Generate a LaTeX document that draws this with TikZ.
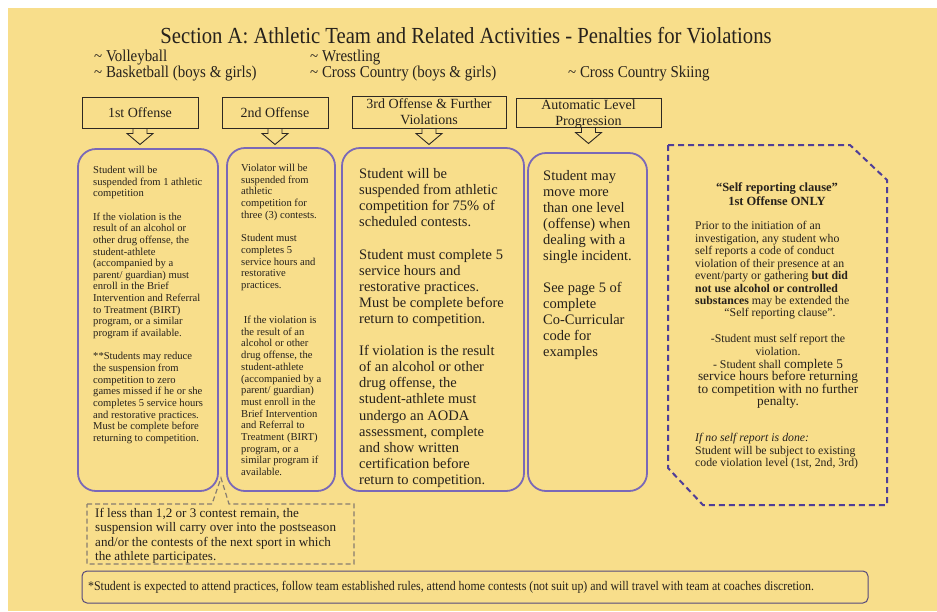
\documentclass[tikz,border=0pt]{standalone}
\usepackage{fontspec}
\setmainfont{Liberation Serif}
\newfontfamily\condfont{Liberation Serif}[FakeStretch=0.9]
\definecolor{bg}{RGB}{248,222,139}
\definecolor{pur}{RGB}{122,104,184}
\definecolor{dpur}{RGB}{80,62,152}
\definecolor{ink}{RGB}{38,33,28}
\definecolor{hdrc}{RGB}{45,40,35}
\definecolor{notec}{RGB}{135,125,112}
\definecolor{botc}{RGB}{85,72,125}
\begin{document}
\begin{tikzpicture}[x=1pt,y=-1pt,
  every node/.style={text=ink, inner sep=0pt},
  hdr/.style={draw=hdrc, line width=1pt, align=center, font=\fontsize{14}{16}\selectfont},
  colbox/.style={draw=pur, line width=1.8pt, rounded corners=18pt},
  smalltxt/.style={anchor=north west, align=left, font=\fontsize{10.6}{11.65}\selectfont},
  bigtxt/.style={anchor=north west, align=left, font=\fontsize{14.5}{16.1}\selectfont},
  srtxt/.style={font=\fontsize{11.8}{12.5}\selectfont},
  sport/.style={anchor=west, font=\condfont\fontsize{16.6}{19}\selectfont},
  downarrow/.pic={\draw[hdrc, line width=0.9pt, line join=miter] (-7,0) -- (-7,5) -- (-13,5) -- (0,16) -- (13,5) -- (7,5) -- (7,0);}
]
\useasboundingbox (0,0) rectangle (937,611);
\fill[white] (0,0) rectangle (937,611);
\fill[bg] (8,8) rectangle (937,611);

% title and sports
\node (title) at (466,36) {\condfont\fontsize{23}{25}\selectfont Section A: Athletic Team and Related Activities - Penalties for Violations};
\node[sport] (s1) at (94,58) {\textasciitilde\ Volleyball};
\node[sport] (s2) at (94,74) {\textasciitilde\ Basketball (boys \& girls)};
\node[sport] (s3) at (310,58) {\textasciitilde\ Wrestling};
\node[sport] (s4) at (310,74) {\textasciitilde\ Cross Country (boys \& girls)};
\node[sport] (s5) at (568,74) {\textasciitilde\ Cross Country Skiing};

% header boxes
\node[hdr, minimum width=116pt, minimum height=31pt] (h1) at (140,112.5) {1st Offense};
\node[hdr, minimum width=106pt, minimum height=31pt] (h2) at (275,112.5) {2nd Offense};
\node[hdr, minimum width=154pt, minimum height=32pt] (h3) at (429,112) {3rd Offense \& Further\\Violations};
\node[hdr, minimum width=145pt, minimum height=29pt] (h4) at (588.5,112.5) {};
\node[align=center, font=\fontsize{14}{16}\selectfont] (h4t) at (588.5,114.5) {Automatic Level\\Progression};
\pic at (h1.south) {downarrow};
\pic at (h2.south) {downarrow};
\pic at (h3.south) {downarrow};
\pic at (h4.south) {downarrow};

% column boxes
\node[colbox, minimum width=140pt, minimum height=342pt] (b1) at (148,320) {};
\node[colbox, minimum width=108pt, minimum height=343pt] (b2) at (281,319.5) {};
\node[colbox, minimum width=182pt, minimum height=343pt] (b3) at (433,319.5) {};
\node[colbox, minimum width=119pt, minimum height=338pt] (b4) at (587.5,322) {};

\node[smalltxt] (t1) at (93,165.9) {Student will be\\suspended from 1 athletic\\competition\\[11.65pt]
If the violation is the\\result of an alcohol or\\other drug offense, the\\student-athlete\\(accompanied by a\\parent/ guardian) must\\enroll in the Brief\\Intervention and Referral\\to Treatment (BIRT)\\program, or a similar\\program if available.\\[11.65pt]
**Students may reduce\\the suspension from\\competition to zero\\games missed if he or she\\completes 5 service hours\\and restorative practices.\\Must be complete before\\returning to competition.};

\node[smalltxt, font=\fontsize{10.6}{11.7}\selectfont] (t2) at (241,163.9) {Violator will be\\suspended from\\athletic\\competition for\\three (3) contests.\\[11.7pt]
Student must\\completes 5\\service hours and\\restorative\\practices.\\[23.4pt]
\ If the violation is\\the result of an\\alcohol or other\\drug offense, the\\student-athlete\\(accompanied by a\\parent/ guardian)\\must enroll in the\\Brief Intervention\\and Referral to\\Treatment (BIRT)\\program, or a\\similar program if\\available.};

\node[bigtxt] (t3) at (359,168.3) {Student will be\\suspended from athletic\\competition for 75\% of\\scheduled contests.\\[16.1pt]
Student must complete 5\\service hours and\\restorative practices.\\Must be complete before\\return to competition.\\[16.1pt]
If violation is the result\\of an alcohol or other\\drug offense, the\\student-athlete must\\undergo an AODA\\assessment, complete\\and show written\\certification before\\return to competition.};

\node[bigtxt, font=\fontsize{14.5}{16}\selectfont] (t4) at (543,170.3) {Student may\\move more\\than one level\\(offense) when\\dealing with a\\single incident.\\[16pt]
See page 5 of\\complete\\Co-Curricular\\code for\\examples};

% self reporting clause
\draw[dpur, line width=2pt, dash pattern=on 6pt off 4pt] (668,145) -- (850,145) -- (887,180) -- (887,505) -- (703,505) -- (668,468) -- cycle;
\node[anchor=north, align=center, font=\bfseries\fontsize{12.5}{14}\selectfont] (srh) at (777,182.1) {“Self reporting clause”\\1st Offense ONLY};
\node[srtxt, anchor=north west, align=left] (srp) at (695,221.4) {Prior to the initiation of an\\investigation, any student who\\self reports a code of conduct\\violation of their presence at an\\event/party or gathering \textbf{but did}\\\textbf{not use alcohol or controlled}\\\textbf{substances} may be extended the};
\node[srtxt] (srq) at (780,314) {“Self reporting clause”.};
\node[srtxt, anchor=north, align=center, font=\fontsize{11.8}{12.6}\selectfont] (srr) at (778,334.4) {-Student must self report the\\violation.\\- Student shall {\fontsize{13.3}{12.6}\selectfont complete 5}\\{\fontsize{13.3}{12.6}\selectfont service hours before returning}\\{\fontsize{13.3}{12.6}\selectfont to competition with no further}\\{\fontsize{13.3}{12.6}\selectfont penalty.}};
\node[srtxt, anchor=north west, align=left] (srn) at (695,433.4) {\textit{If no self report is done:}\\Student will be subject to existing\\code violation level (1st, 2nd, 3rd)};

% carry-over note
\draw[notec, line width=1.2pt, dash pattern=on 5pt off 3pt] (87,504) -- (212,504) -- (221,478) -- (229,504) -- (354,504) -- (354,564) -- (87,564) -- cycle;
\node[anchor=north west, align=left, font=\fontsize{13.1}{14.5}\selectfont] (note) at (95,507.9) {If less than 1,2 or 3 contest remain, the\\suspension will carry over into the postseason\\and/or the contests of the next sport in which\\the athlete participates.};

% bottom box
\node[draw=botc, line width=1pt, rounded corners=5pt, minimum width=786pt, minimum height=32pt] (bot) at (475,587) {};
\node[anchor=west, font=\condfont\fontsize{13.2}{15}\selectfont] (bottxt) at (88,587) {*Student is expected to attend practices, follow team established rules, attend home contests (not suit up) and will travel with team at coaches discretion.};
\end{tikzpicture}
\end{document}
